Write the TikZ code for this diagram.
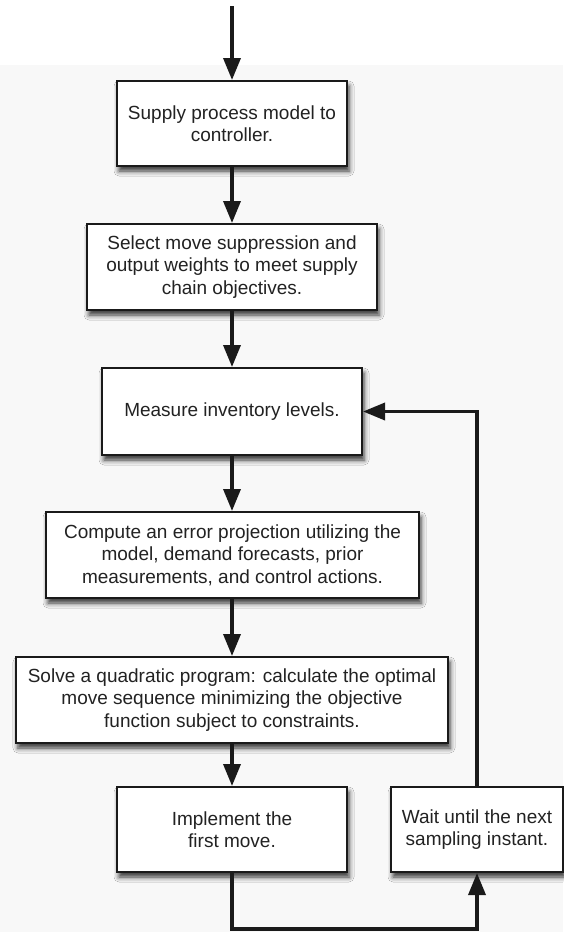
\documentclass[tikz,border=0pt]{standalone}
\usepackage{fontspec}
\setmainfont{Liberation Sans}
\usetikzlibrary{arrows.meta,shadows.blur}
\definecolor{txt}{HTML}{222222}
\definecolor{edge}{HTML}{1A1A1A}
\definecolor{bg}{HTML}{F8F8F8}
\tikzset{
  box/.style={draw=edge, line width=2pt, fill=white, align=center, text=txt,
    inner sep=0pt, font=\fontsize{19}{22.5}\selectfont,
    blur shadow={shadow xshift=2pt, shadow yshift=-5pt, shadow blur radius=5pt, shadow opacity=80}},
  flow/.style={draw=edge, line width=3.5pt, line join=miter, -{Triangle[length=22pt,width=17pt]}}
}
\begin{document}
\begin{tikzpicture}[x=1pt,y=-1pt]
\useasboundingbox (0,0) rectangle (563,932);
\fill[bg] (0,65) rectangle (563,932);
\node[box, minimum width=230pt, minimum height=85pt] (b1) at (232,123.5) {Supply process model to\\controller.};
\node[box, minimum width=290pt, minimum height=86pt] (b2) at (232,267) {Select move suppression and\\output weights to meet supply\\chain objectives.};
\node[box, minimum width=260pt, minimum height=87pt] (b3) at (232,411.5) {Measure inventory levels.};
\node[box, minimum width=373pt, minimum height=86pt] (b4) at (232.5,555) {Compute an error projection utilizing the\\model, demand forecasts, prior\\measurements, and control actions.};
\node[box, minimum width=432pt, minimum height=86pt] (b5) at (232,700) {Solve a quadratic program: calculate the optimal\\move sequence minimizing the objective\\function subject to constraints.};
\node[box, minimum width=230pt, minimum height=85pt] (b6) at (232,829.5) {Implement the\\first move.};
\node[box, minimum width=172pt, minimum height=85pt] (b7) at (477,829.5) {Wait until the next\\sampling instant.};
\coordinate (top) at (232,6);
\coordinate (bot) at (355,929);
\draw[flow] (top) -- (b1.north);
\draw[flow] (b1.south) -- (b2.north);
\draw[flow] (b2.south) -- (b3.north);
\draw[flow] (b3.south) -- (b4.north -| b3.south);
\draw[flow] (b4.south -| b3.south) -- (b5.north -| b3.south);
\draw[flow] (b5.south -| b3.south) -- (b6.north);
\draw[flow] (b7.north) |- (b3.east);
\draw[flow] (b6.south) |- (bot) -| (b7.south);
\end{tikzpicture}
\end{document}
